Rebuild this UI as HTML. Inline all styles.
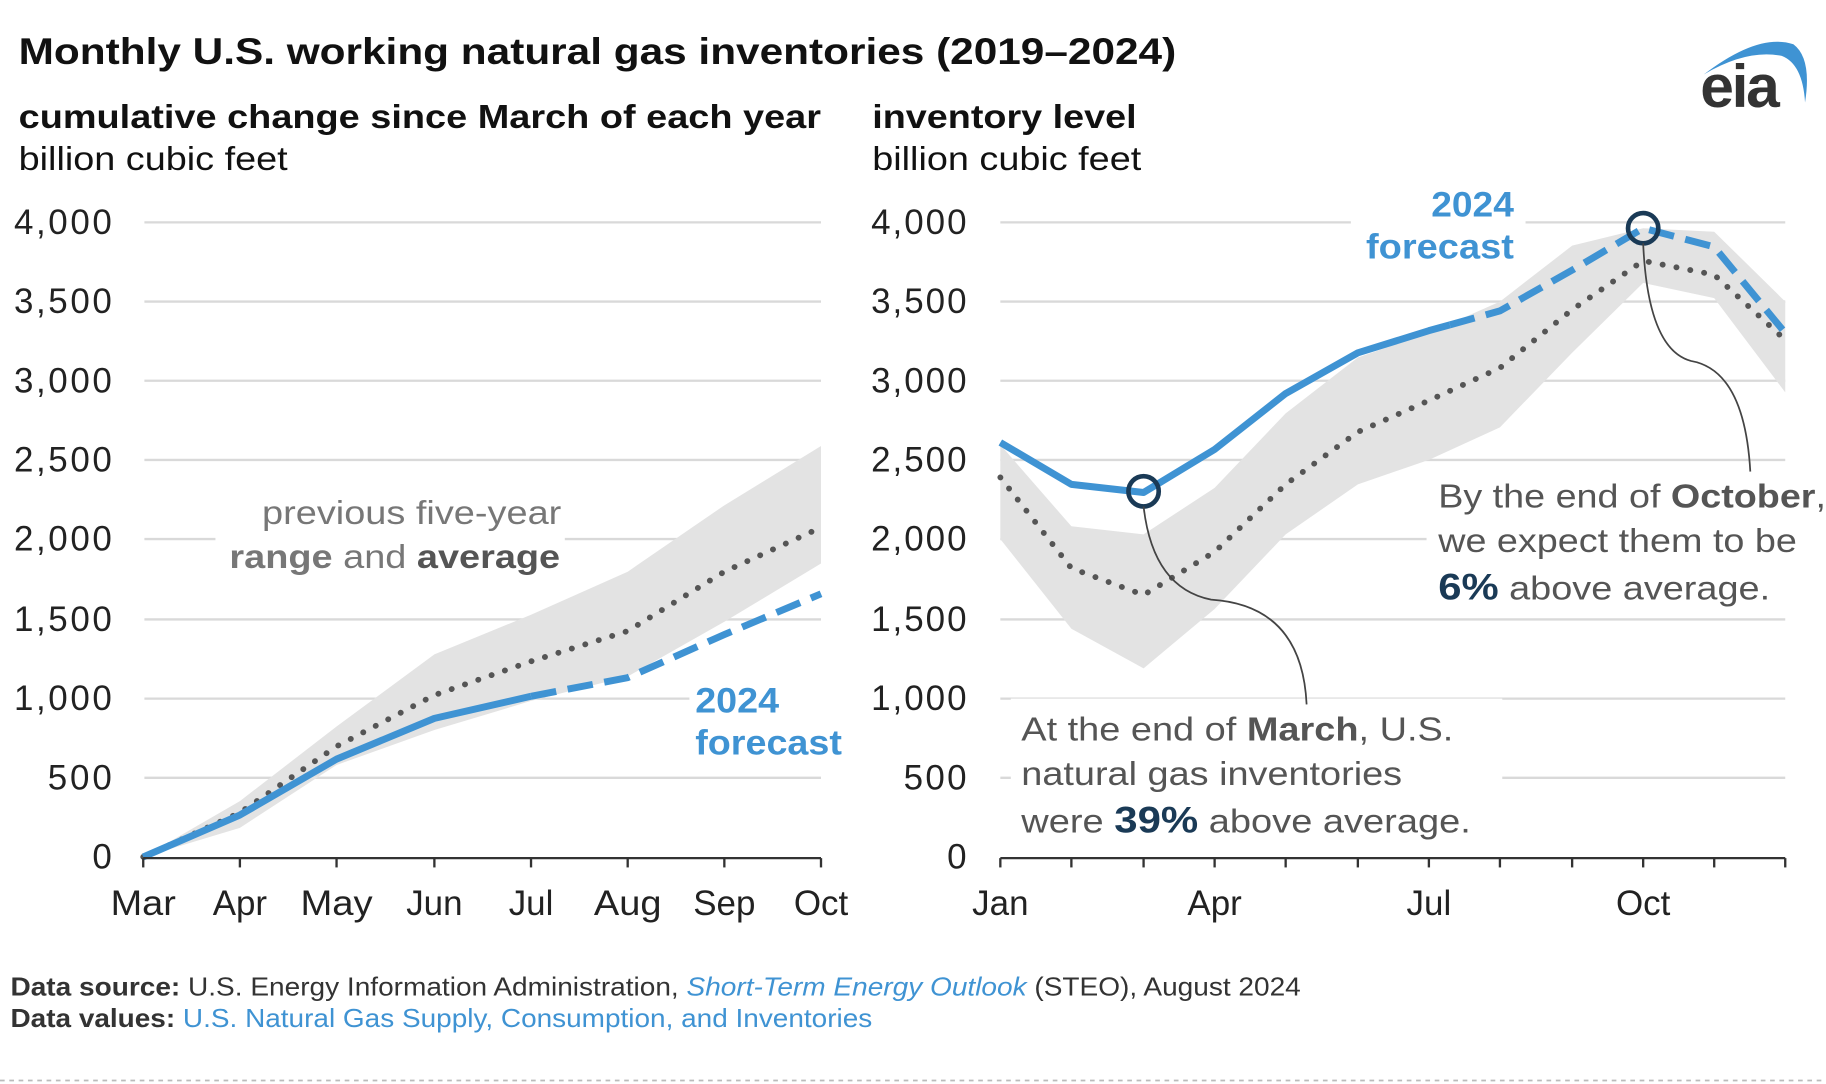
<!DOCTYPE html>
<html><head><meta charset="utf-8"><style>
html,body{margin:0;padding:0;background:#fff;}
svg{display:block;}
text{font-family:"Liberation Sans",Arial,sans-serif;}
</style></head><body>
<svg width="1826" height="1084" viewBox="0 0 1568 931" preserveAspectRatio="none" xmlns="http://www.w3.org/2000/svg">
<rect width="1568" height="931" fill="#fff"/>
<text x="16" y="55" font-size="32" font-weight="bold" fill="#111" textLength="994" lengthAdjust="spacingAndGlyphs">Monthly U.S. working natural gas inventories (2019–2024)</text>
<!-- logo -->
<path d="M1463,64 Q1510,28 1540,38 Q1556,50 1550,88 Q1548,55 1530,48 Q1500,42 1463,64Z" fill="#3f93d3"/>
<text x="1460" y="92" font-size="52" font-weight="bold" fill="#333" letter-spacing="-2">eia</text>

<text x="16" y="110" font-size="29" font-weight="bold" fill="#111" textLength="689" lengthAdjust="spacingAndGlyphs">cumulative change since March of each year</text>
<text x="16" y="146" font-size="29" fill="#111" textLength="231" lengthAdjust="spacingAndGlyphs">billion cubic feet</text>
<text x="749" y="110" font-size="29" font-weight="bold" fill="#111" textLength="227" lengthAdjust="spacingAndGlyphs">inventory level</text>
<text x="749" y="146" font-size="29" fill="#111" textLength="231" lengthAdjust="spacingAndGlyphs">billion cubic feet</text>

<g stroke="#d9d9d9" stroke-width="2">
<line x1="124" x2="705" y1="191" y2="191"/><line x1="124" x2="705" y1="259" y2="259"/><line x1="124" x2="705" y1="327" y2="327"/><line x1="124" x2="705" y1="395" y2="395"/><line x1="124" x2="705" y1="463" y2="463"/><line x1="124" x2="705" y1="532" y2="532"/><line x1="124" x2="705" y1="600" y2="600"/><line x1="124" x2="705" y1="668" y2="668"/>
<line x1="859" x2="1533" y1="191" y2="191"/><line x1="859" x2="1533" y1="259" y2="259"/><line x1="859" x2="1533" y1="327" y2="327"/><line x1="859" x2="1533" y1="395" y2="395"/><line x1="859" x2="1533" y1="463" y2="463"/><line x1="859" x2="1533" y1="532" y2="532"/><line x1="859" x2="1533" y1="600" y2="600"/><line x1="859" x2="1533" y1="668" y2="668"/>
</g>
<g font-size="30" fill="#222" text-anchor="end" lengthAdjust="spacingAndGlyphs">
<text x="96" y="201" textLength="84">4,000</text><text x="96" y="269" textLength="84">3,500</text><text x="96" y="337" textLength="84">3,000</text><text x="96" y="405" textLength="84">2,500</text><text x="96" y="473" textLength="84">2,000</text><text x="96" y="542" textLength="84">1,500</text><text x="96" y="610" textLength="84">1,000</text><text x="96" y="678" textLength="55">500</text><text x="96" y="746">0</text>
<text x="830" y="201" textLength="82">4,000</text><text x="830" y="269" textLength="82">3,500</text><text x="830" y="337" textLength="82">3,000</text><text x="830" y="405" textLength="82">2,500</text><text x="830" y="473" textLength="82">2,000</text><text x="830" y="542" textLength="82">1,500</text><text x="830" y="610" textLength="82">1,000</text><text x="830" y="678" textLength="54">500</text><text x="830" y="746">0</text>
</g>

<!-- left chart -->
<polygon fill="#e3e3e3" points="123,736 206,688 289,624 373,562 456,528 539,491 622,434 705,383 705,484 622,534 539,581 456,602 373,627 289,657 206,711"/>
<polyline fill="none" stroke="#555" stroke-width="5" stroke-dasharray="0.1 12" stroke-linecap="round" points="123,736 206,698 289,641 373,597 456,568 539,542 622,491 705,453"/>
<polyline fill="none" stroke="#3f93d3" stroke-width="6" stroke-linejoin="round" points="123,736 206,700 289,652 373,617 456,598"/>
<polyline fill="none" stroke="#3f93d3" stroke-width="6" stroke-dasharray="22 10" points="456,598 539,582 622,545 705,510"/>
<line x1="123" x2="705" y1="737" y2="737" stroke="#333" stroke-width="2"/>
<g stroke="#333" stroke-width="2"><line x1="123" x2="123" y1="737" y2="745"/><line x1="206" x2="206" y1="737" y2="745"/><line x1="289" x2="289" y1="737" y2="745"/><line x1="373" x2="373" y1="737" y2="745"/><line x1="456" x2="456" y1="737" y2="745"/><line x1="539" x2="539" y1="737" y2="745"/><line x1="622" x2="622" y1="737" y2="745"/><line x1="705" x2="705" y1="737" y2="745"/></g>
<g font-size="30" fill="#222" text-anchor="middle">
<text x="123" y="786" textLength="56" lengthAdjust="spacingAndGlyphs">Mar</text><text x="206" y="786">Apr</text><text x="289" y="786" textLength="62" lengthAdjust="spacingAndGlyphs">May</text><text x="373" y="786">Jun</text><text x="456" y="786">Jul</text><text x="539" y="786" textLength="58" lengthAdjust="spacingAndGlyphs">Aug</text><text x="622" y="786">Sep</text><text x="705" y="786">Oct</text>
</g>
<rect x="185" y="420" width="300" height="75" fill="#fff"/>
<g font-size="29" text-anchor="start" fill="#777">
<text x="225" y="450" textLength="257" lengthAdjust="spacingAndGlyphs">previous five-year</text>
<text x="197" y="488" textLength="284" lengthAdjust="spacingAndGlyphs"><tspan font-weight="bold">range</tspan> and <tspan font-weight="bold" fill="#555">average</tspan></text>
</g>
<rect x="592" y="582" width="134" height="70" fill="#fff"/>
<text x="597" y="612" font-size="30" font-weight="bold" fill="#3f93d3" textLength="72" lengthAdjust="spacingAndGlyphs">2024</text>
<text x="597" y="648" font-size="30" font-weight="bold" fill="#3f93d3" textLength="126" lengthAdjust="spacingAndGlyphs">forecast</text>

<!-- right chart -->
<rect x="1160" y="155" width="150" height="75" fill="#fff"/>
<text x="1229" y="186" font-size="30" font-weight="bold" fill="#3f93d3" textLength="71" lengthAdjust="spacingAndGlyphs">2024</text>
<text x="1173" y="222" font-size="30" font-weight="bold" fill="#3f93d3" textLength="127" lengthAdjust="spacingAndGlyphs">forecast</text>
<polygon fill="#e3e3e3" points="859,382 920,452 982,459 1043,419 1104,355 1166,307 1227,286 1288,259 1350,211 1411,196 1472,199 1533,259 1533,337 1472,256 1411,243 1350,303 1288,367 1227,395 1166,416 1104,459 1043,523 982,574 920,540 859,463"/>
<rect x="1225" y="400" width="343" height="125" fill="#fff"/>
<rect x="868" y="600" width="422" height="125" fill="#fff"/>
<polyline fill="none" stroke="#555" stroke-width="5" stroke-dasharray="0.1 12" stroke-linecap="round" points="859,410 920,488 982,511 1043,474 1104,416 1166,371 1227,344 1288,316 1350,266 1411,224 1472,236 1533,292"/>
<polyline fill="none" stroke="#3f93d3" stroke-width="6" stroke-linejoin="round" points="859,380 920,416 982,423 1043,386 1104,338 1166,303 1227,284 1245,279"/>
<polyline fill="none" stroke="#3f93d3" stroke-width="6" stroke-dasharray="22 10" points="1245,279 1288,267 1350,232 1411,196 1472,212 1533,286"/>
<circle cx="982" cy="422" r="13" fill="none" stroke="#1a3a56" stroke-width="4"/>
<circle cx="1411" cy="196" r="13" fill="none" stroke="#1a3a56" stroke-width="4"/>
<path d="M982,435 Q990,505 1040,515 Q1118,520 1122,605" fill="none" stroke="#444" stroke-width="1.5"/>
<path d="M1411,209 Q1415,300 1452,310 Q1498,318 1503,405" fill="none" stroke="#444" stroke-width="1.5"/>
<line x1="859" x2="1533" y1="737" y2="737" stroke="#333" stroke-width="2"/>
<g stroke="#333" stroke-width="2"><line x1="859" x2="859" y1="737" y2="745"/><line x1="920" x2="920" y1="737" y2="745"/><line x1="982" x2="982" y1="737" y2="745"/><line x1="1043" x2="1043" y1="737" y2="745"/><line x1="1104" x2="1104" y1="737" y2="745"/><line x1="1166" x2="1166" y1="737" y2="745"/><line x1="1227" x2="1227" y1="737" y2="745"/><line x1="1288" x2="1288" y1="737" y2="745"/><line x1="1350" x2="1350" y1="737" y2="745"/><line x1="1411" x2="1411" y1="737" y2="745"/><line x1="1472" x2="1472" y1="737" y2="745"/><line x1="1533" x2="1533" y1="737" y2="745"/></g>
<g font-size="30" fill="#222" text-anchor="middle">
<text x="859" y="786">Jan</text><text x="1043" y="786">Apr</text><text x="1227" y="786">Jul</text><text x="1411" y="786">Oct</text>
</g>
<g font-size="29" fill="#555">
<text x="1235" y="436" textLength="333" lengthAdjust="spacingAndGlyphs">By the end of <tspan font-weight="bold">October</tspan>,</text>
<text x="1235" y="474" textLength="308" lengthAdjust="spacingAndGlyphs">we expect them to be</text>
<text x="1235" y="515" textLength="285" lengthAdjust="spacingAndGlyphs"><tspan font-weight="bold" fill="#1a3a56" font-size="32">6%</tspan> above average.</text>
<text x="877" y="636" textLength="371" lengthAdjust="spacingAndGlyphs">At the end of <tspan font-weight="bold">March</tspan>, U.S.</text>
<text x="877" y="674" textLength="327" lengthAdjust="spacingAndGlyphs">natural gas inventories</text>
<text x="877" y="715" textLength="386" lengthAdjust="spacingAndGlyphs">were <tspan font-weight="bold" fill="#1a3a56" font-size="32">39%</tspan> above average.</text>
</g>

<text x="9" y="855" font-size="22" fill="#333" textLength="1108" lengthAdjust="spacingAndGlyphs"><tspan font-weight="bold">Data source:</tspan> U.S. Energy Information Administration, <tspan fill="#3f93d3" font-style="italic">Short-Term Energy Outlook</tspan> (STEO), August 2024</text>
<text x="9" y="882" font-size="22" fill="#333" textLength="740" lengthAdjust="spacingAndGlyphs"><tspan font-weight="bold">Data values:</tspan> <tspan fill="#3f93d3">U.S. Natural Gas Supply, Consumption, and Inventories</tspan></text>
<line x1="0" x2="1568" y1="928" y2="928" stroke="#bbb" stroke-width="1.5" stroke-dasharray="4 4"/>
</svg>
</body></html>
